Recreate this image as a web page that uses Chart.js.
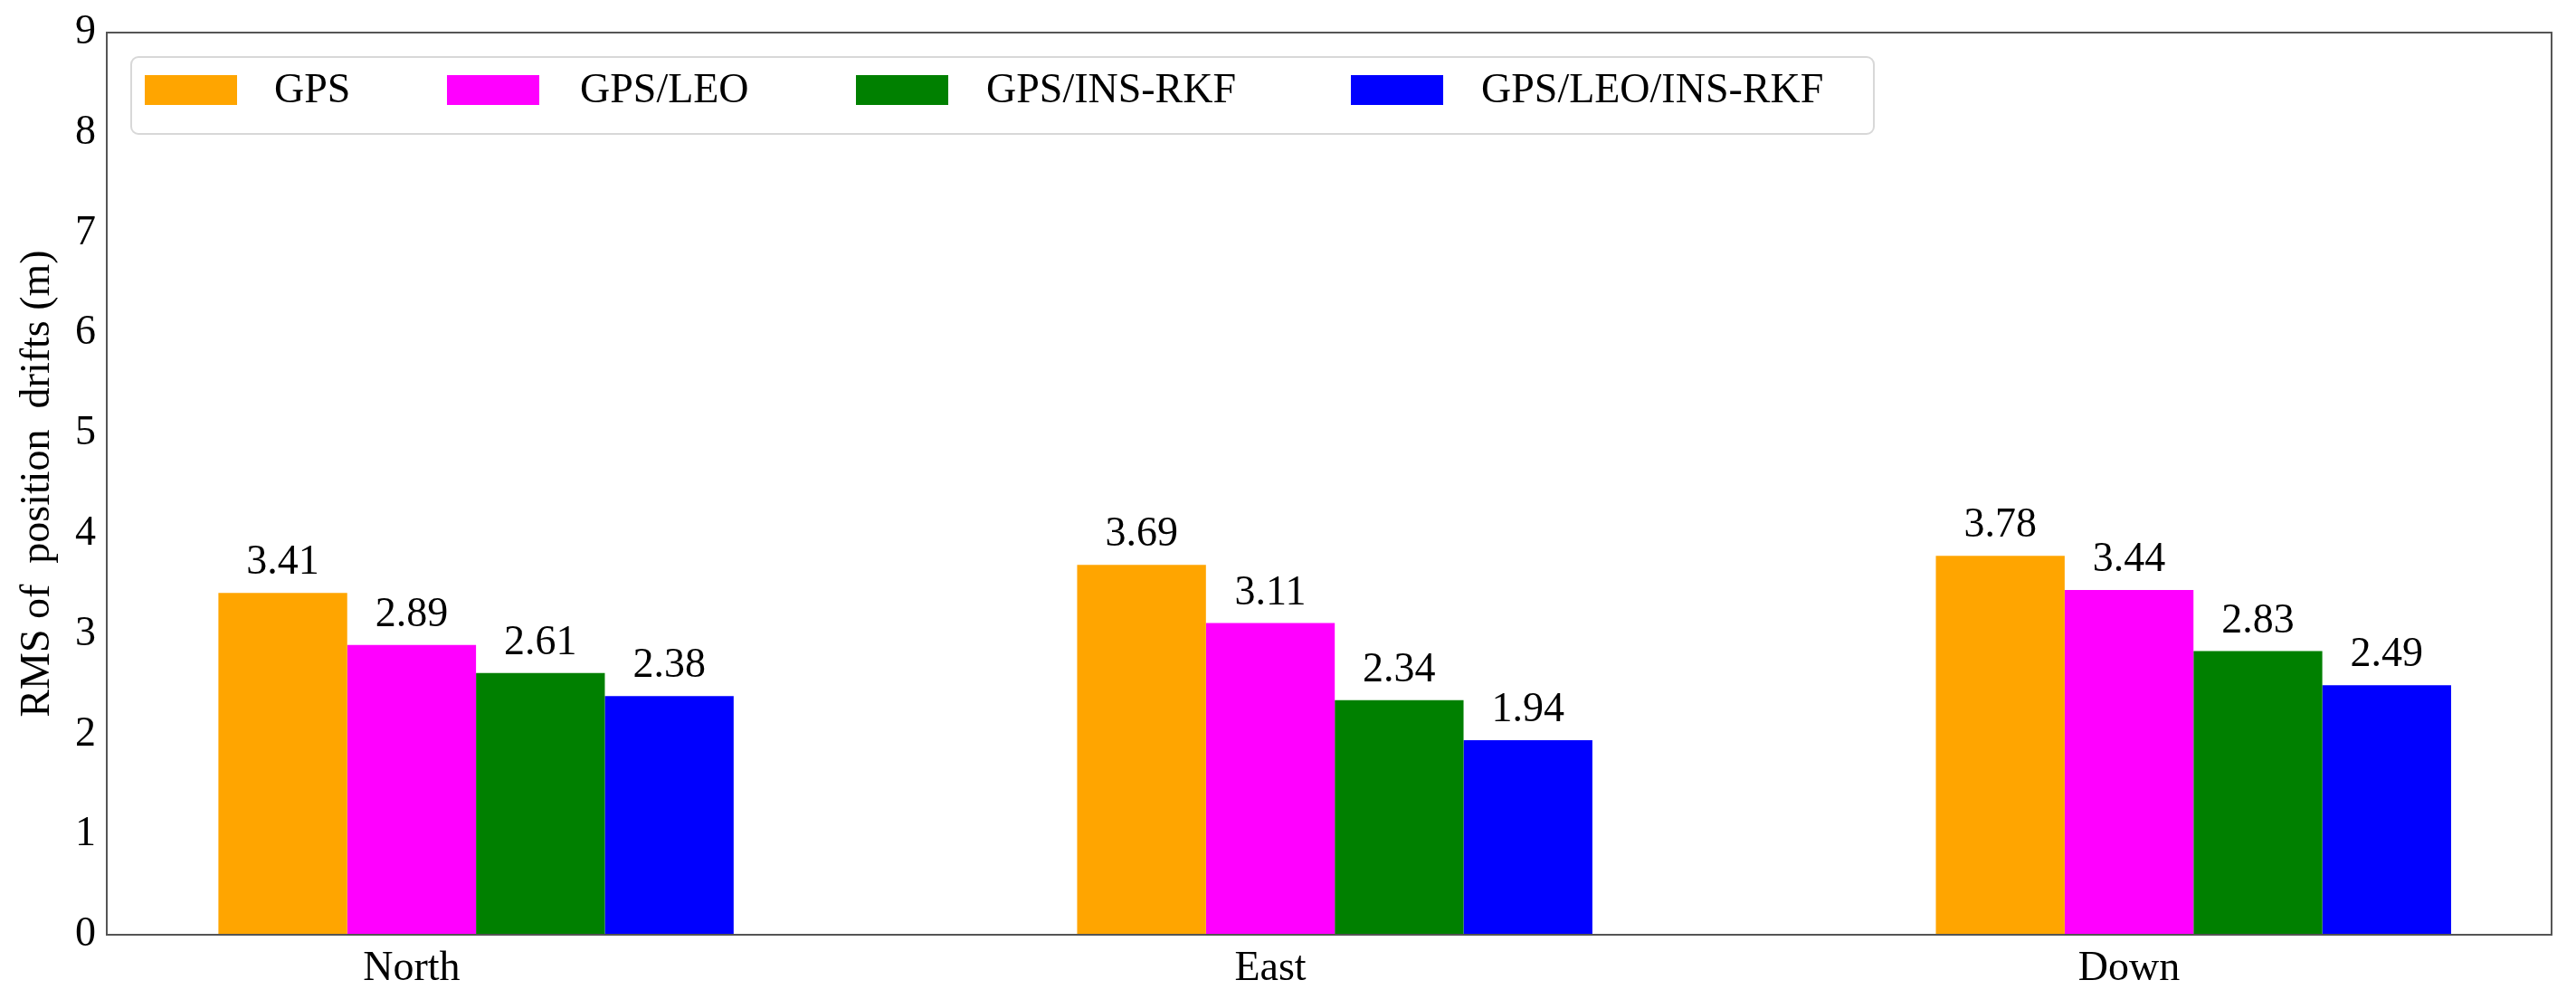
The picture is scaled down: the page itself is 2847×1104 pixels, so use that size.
<!DOCTYPE html>
<html><head><meta charset="utf-8">
<script src="https://cdn.jsdelivr.net/npm/chart.js@4/dist/chart.umd.min.js"></script>
<style>html,body{margin:0;padding:0;background:#fff}#wrap{width:2847px;height:1104px}</style>
</head><body><div id="wrap"><canvas id="c"></canvas></div>
<script>
const categories = ["North", "East", "Down"];
const seriesNames = ["GPS", "GPS/LEO", "GPS/INS-RKF", "GPS/LEO/INS-RKF"];
const gps = [3.41, 3.69, 3.78];
const gpsLeo = [2.89, 3.11, 3.44];
const gpsInsRkf = [2.61, 2.34, 2.83];
const gpsLeoInsRkf = [2.38, 1.94, 2.49];
const yTicks = [0,1,2,3,4,5,6,7,8,9];
const colors = ["#FFA500", "#FF00FF", "#008000", "#0000FF"];
const FONT = "'Liberation Serif', 'Times New Roman', serif";
const FS = 46;

const seriesValues = [gps, gpsLeo, gpsInsRkf, gpsLeoInsRkf];
const datasets = seriesNames.map((n, i) => ({
  label: n,
  data: seriesValues[i].map((v, j) => ({x: j, y: v})),
  backgroundColor: colors[i],
  borderWidth: 0,
  categoryPercentage: 0.6,
  barPercentage: 1.0
}));

const valueLabels = {
  id: 'valueLabels',
  afterDatasetsDraw(chart) {
    const ctx = chart.ctx;
    ctx.save();
    ctx.font = FS + "px " + FONT;
    ctx.fillStyle = "#000";
    ctx.textAlign = "center";
    ctx.textBaseline = "bottom";
    chart.data.datasets.forEach((ds, i) => {
      chart.getDatasetMeta(i).data.forEach((bar, j) => {
        ctx.fillText(ds.data[j].y.toFixed(2), bar.x, bar.y - 10);
      });
    });
    ctx.restore();
  }
};

const frame = {
  id: 'frame',
  afterDraw(chart) {
    const {ctx, chartArea: a} = chart;
    ctx.save();
    ctx.strokeStyle = "#555";
    ctx.lineWidth = 2;
    ctx.strokeRect(a.left, a.top, a.right - a.left, a.bottom - a.top);
    const lx = 145, ly = 63, lw = 1926, lh = 85;
    ctx.strokeStyle = "#d8d8d8";
    ctx.fillStyle = "rgba(255,255,255,0.8)";
    ctx.beginPath();
    ctx.roundRect(lx, ly, lw, lh, 8);
    ctx.fill(); ctx.stroke();
    const boxX = [160, 494, 946, 1493];
    const textX = [303, 641, 1090, 1637];
    ctx.font = FS + "px " + FONT;
    ctx.textBaseline = "middle";
    ctx.textAlign = "left";
    chart.data.datasets.forEach((ds, i) => {
      ctx.fillStyle = ds.backgroundColor;
      ctx.fillRect(boxX[i], 83, 102, 33);
      ctx.fillStyle = "#000";
      ctx.fillText(ds.label, textX[i], 101);
    });
    ctx.restore();
  }
};

new Chart(document.getElementById('c'), {
  type: 'bar',
  data: { datasets },
  options: {
    responsive: true, maintainAspectRatio: false, animation: false,
    layout: { padding: { top: 36, right: 27, left: 0, bottom: 0 } },
    plugins: { legend: { display: false }, tooltip: { enabled: false } },
    scales: {
      x: {
        type: 'linear', min: -0.43, max: 2.417, offset: false,
        grid: { display: false, drawTicks: true, tickLength: 10, color: "#555" },
        border: { display: false },
        afterBuildTicks(s) { s.ticks = [0,1,2].map(v => ({value: v - 0.075})); },
        afterFit(s) { s.height = 71; },
        ticks: { callback: (v, i) => categories[i], font: { family: FONT, size: FS }, color: "#000", padding: 0, maxRotation: 0, autoSkip: false }
      },
      y: {
        min: 0, max: 9,
        afterBuildTicks(s) { s.ticks = yTicks.map(v => ({value: v})); },
        afterFit(s) { s.width = 118; },
        grid: { display: false, drawOnChartArea: false, drawTicks: true, tickLength: 8, color: "#555" },
        border: { display: false },
        ticks: { font: { family: FONT, size: FS }, color: "#000", padding: 4 },
        title: { display: true, text: "RMS of  position  drifts (m)", font: { family: FONT, size: FS }, color: "#000", padding: { top: 14, bottom: 0 } }
      }
    }
  },
  plugins: [valueLabels, frame]
});
</script></body></html>
